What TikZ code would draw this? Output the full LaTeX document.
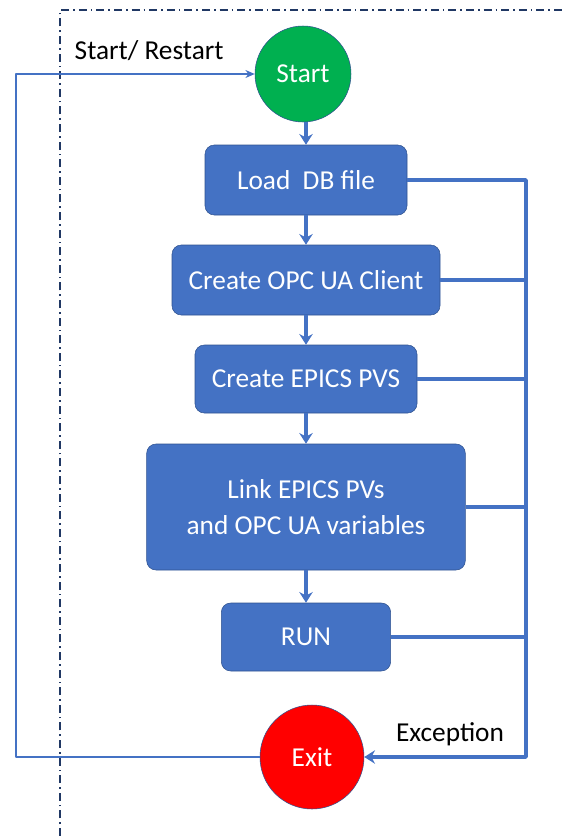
\documentclass[tikz,border=0pt]{standalone}
\usepackage{fontspec}
\setmainfont{Carlito}
\usetikzlibrary{arrows.meta,calc}
\definecolor{opcblue}{RGB}{68,114,196}
\definecolor{opcedge}{RGB}{47,82,143}
\definecolor{opcgreen}{RGB}{0,176,80}
\definecolor{opcred}{RGB}{255,0,0}
\definecolor{opcnavy}{RGB}{32,56,100}

\begin{document}
\begin{tikzpicture}[x=0.75pt, y=-0.75pt, >=Stealth, line join=round, font=\fontsize{20.5}{24}\selectfont,
  stepbox/.style={draw=opcedge, fill=opcblue, rounded corners=7pt, text=white, align=center, inner sep=0pt},
  flow/.style={opcblue, line width=2.6pt, -{Stealth[length=8pt,width=10pt]}},
  bus/.style={opcblue, line width=2.6pt}]
  \path[use as bounding box] (0,0) rectangle (563,836);

  % frame
  \draw[opcnavy, line width=0.8pt, dash pattern=on 6pt off 3pt on 1.2pt off 3pt] (60,836) -- (60,10) -- (563,10);

  % terminals
  \node[circle, draw=opcedge, fill=opcgreen, text=white, minimum size=72pt, inner sep=0pt] (start) at (303,74) {Start};
  \node[circle, draw=opcedge, fill=opcred, text=white, minimum size=78pt, inner sep=0pt] (exit) at (312,757) {Exit};

  % steps
  \node[stepbox, minimum width=151.5pt, minimum height=52.5pt] (load) at (306,180) {Load~~DB file};
  \node[stepbox, minimum width=201pt, minimum height=52.5pt] (client) at (306,280) {Create OPC UA Client};
  \node[stepbox, minimum width=166.5pt, minimum height=51pt] (pvs) at (306,379) {Create EPICS PVS};
  \node[stepbox, minimum width=239pt, minimum height=94.5pt] (link) at (306,507) {Link EPICS PVs\\[3pt]and OPC UA variables};
  \node[stepbox, minimum width=127pt, minimum height=51pt] (run) at (306,637) {RUN};

  % main flow
  \draw[flow] (start.south -| load.north) -- (load.north);
  \foreach \a/\b in {load/client,client/pvs,pvs/link,link/run}
    \draw[flow] (\a.south) -- (\b.north);

  % exception bus
  \coordinate (busend) at (526,757);
  \draw[bus, -{Stealth[length=8pt,width=10pt]}] (load.east) -| (busend) -- (exit.east);
  \foreach \n in {client,pvs,link,run}
    \draw[bus] (\n.east) -- (\n.east -| busend);

  % restart loop
  \coordinate (loopbot) at (16,757);
  \coordinate (looptop) at (16,74);
  \draw[opcblue, line width=0.8pt, -{Stealth[length=7pt,width=6pt]}] (exit.west) -- (loopbot) -- (looptop) -- (start.west);

  % labels
  \node[anchor=west] (restartlbl) at (70,51) {Start/ Restart};
  \node (exclbl) at (450,734) {Exception};

\end{tikzpicture}
\end{document}
